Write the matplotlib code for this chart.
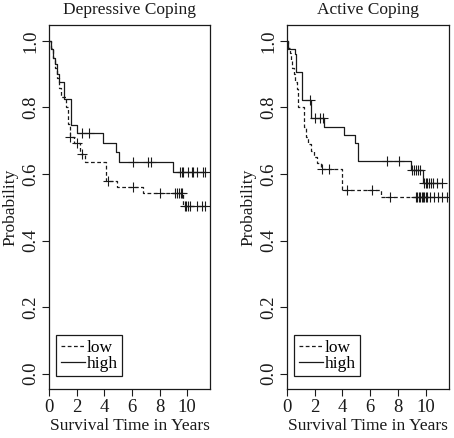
import numpy as np
import matplotlib
matplotlib.use("Agg")
import matplotlib.pyplot as plt

plt.rcParams['font.family'] = ['Liberation Serif', 'DejaVu Serif']

titles = ["Depressive Coping", "Active Coping"]
xlabel = "Survival Time in Years"
ylabel = "Probability"
legend_labels = ["low", "high"]
xticks = [0, 2, 4, 6, 8, 10]
yticks = [0.0, 0.2, 0.4, 0.6, 0.8, 1.0]
ytick_labels = ["0.0", "0.2", "0.4", "0.6", "0.8", "1.0"]

# Depressive coping - low
dep_low_t = [0, 0.15, 0.3, 0.45, 0.6, 0.75, 0.9, 1.2, 1.4, 1.5, 1.8, 2.25, 2.6, 4.13, 4.9, 6.8, 9.73]
dep_low_s = [1.0, 0.98, 0.95, 0.92, 0.89, 0.86, 0.83, 0.80, 0.75, 0.712, 0.692, 0.66, 0.635, 0.58, 0.561, 0.542, 0.505]
dep_low_c = [1.55, 2.0, 2.4, 4.25, 6.05, 8.05, 9.15, 9.3, 9.4, 9.55, 9.65, 9.85, 9.95, 10.05, 10.2, 10.75, 11.05, 11.3]
# Depressive coping - high
dep_high_t = [0, 0.15, 0.3, 0.45, 0.6, 0.7, 1.08, 1.6, 2.05, 3.9, 4.88, 5.1, 8.95]
dep_high_s = [1.0, 0.975, 0.95, 0.93, 0.9, 0.877, 0.824, 0.747, 0.722, 0.692, 0.667, 0.637, 0.605]
dep_high_c = [2.4, 2.9, 6.1, 7.15, 7.4, 9.49, 9.61, 9.73, 10.09, 10.33, 10.46, 10.75, 11.14, 11.3]
# Active coping - low
act_low_t = [0, 0.1, 0.2, 0.3, 0.4, 0.5, 0.6, 0.7, 0.82, 1.25, 1.4, 1.55, 1.75, 1.95, 2.2, 2.45, 3.93, 6.76]
act_low_s = [1.0, 0.98, 0.963, 0.94, 0.92, 0.90, 0.877, 0.857, 0.80, 0.742, 0.71, 0.69, 0.67, 0.65, 0.632, 0.614, 0.552, 0.532]
act_low_c = [2.55, 3.05, 4.3, 6.1, 7.4, 9.3, 9.4, 9.5, 9.6, 9.7, 9.8, 9.9, 10.0, 10.1, 10.3, 10.6, 10.9, 11.2, 11.5]
# Active coping - high
act_high_t = [0, 0.1, 0.55, 0.65, 1.12, 1.7, 2.66, 4.12, 4.92, 5.13, 8.9, 9.82]
act_high_s = [1.0, 0.977, 0.96, 0.907, 0.822, 0.767, 0.742, 0.717, 0.692, 0.64, 0.612, 0.574]
act_high_c = [1.65, 2.0, 2.35, 2.6, 7.17, 8.06, 9.0, 9.15, 9.3, 9.45, 9.6, 9.9, 10.0, 10.1, 10.2, 10.35, 10.5, 10.8, 11.2]

panels = [
    (dep_low_t, dep_low_s, dep_low_c, dep_high_t, dep_high_s, dep_high_c),
    (act_low_t, act_low_s, act_low_c, act_high_t, act_high_s, act_high_c),
]

fig = plt.figure(figsize=(4.54, 4.38), dpi=100)
axes_rects = [[0.108, 0.112, 0.355, 0.831], [0.632, 0.112, 0.357, 0.831]]
col = "#1a1a1a"
fs = 12.5
tfs = 13.5


def step_curve(ax, t, s, c, ls, dashes=None):
    t = np.asarray(t, float)
    s = np.asarray(s, float)
    c = np.asarray(c, float)
    tend = max(t.max(), c.max())
    tt = np.append(t, tend)
    ss = np.append(s, s[-1])
    line, = ax.step(tt, ss, where='post', color=col, lw=0.9, linestyle=ls)
    if dashes is not None:
        line.set_dashes(dashes)
    idx = np.searchsorted(t, c, side='right') - 1
    ax.plot(c, s[idx], linestyle='none', marker='+', color=col, ms=7, mew=0.8)
    return line


for i, (rect, title, data) in enumerate(zip(axes_rects, titles, panels)):
    ax = fig.add_axes(rect)
    lt, ls_, lc, ht, hs, hc = data
    step_curve(ax, lt, ls_, lc, '--', dashes=(3, 2))
    step_curve(ax, ht, hs, hc, '-')
    ax.set_xlim(0, 11.67)
    ax.set_ylim(-0.046, 1.048)
    ax.set_xticks(xticks)
    ax.set_yticks(yticks)
    ax.set_yticklabels(ytick_labels)
    ax.tick_params(direction='out', length=5, width=0.8, colors=col, labelsize=tfs, pad=2)
    ax.tick_params(axis='y', labelrotation=90)
    for lab in ax.get_yticklabels():
        lab.set_va('center')
    for sp in ax.spines.values():
        sp.set_linewidth(0.9)
        sp.set_color(col)
    ax.set_title(title, fontsize=fs, pad=8, color=col)
    ax.set_xlabel(xlabel, fontsize=fs, color=col, labelpad=2)
    ax.set_ylabel(ylabel, fontsize=fs, color=col, labelpad=3)
    h1, = ax.plot([], [], color=col, lw=0.9, linestyle='--', dashes=(3, 2))
    h2, = ax.plot([], [], color=col, lw=0.9, linestyle='-')
    leg = ax.legend([h1, h2], legend_labels, loc='lower left', bbox_to_anchor=(0.045, 0.035),
                    fontsize=fs, frameon=True, fancybox=False, framealpha=1,
                    edgecolor=col, handlelength=1.4, handletextpad=0.1,
                    borderpad=0.25, labelspacing=0.0, borderaxespad=0)
    leg.get_frame().set_linewidth(0.9)

fig.savefig("out.png", dpi=100)
